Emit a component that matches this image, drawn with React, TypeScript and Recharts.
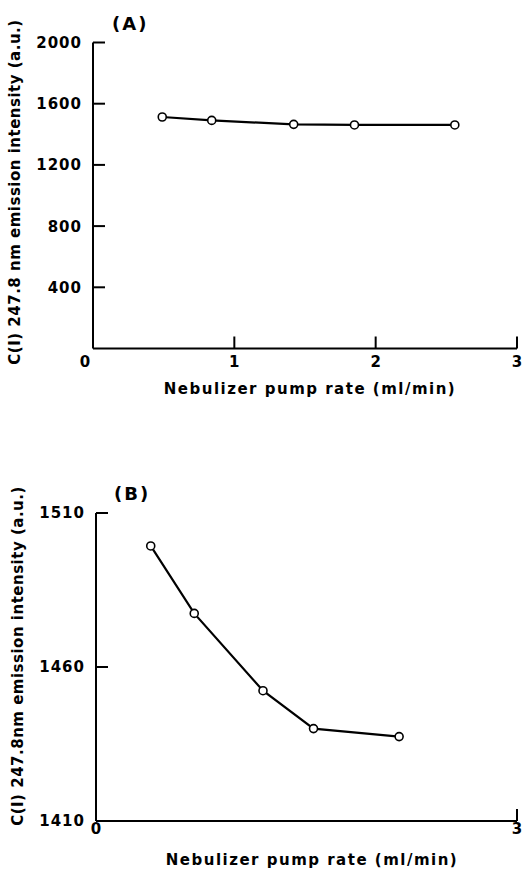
import React from "react";
import { LineChart, Line, XAxis, YAxis } from "recharts";

const pumpRateA = [0.49, 0.84, 1.42, 1.85, 2.56];
const intensityA = [1513, 1491, 1465, 1461, 1461];
const pumpRateB = [0.39, 0.7, 1.19, 1.55, 2.16];
const intensityB = [1499.3, 1477.4, 1452.3, 1440, 1437.4];

const yTicksA = [400, 800, 1200, 1600, 2000];
const xTicksA = [0, 1, 2, 3];
const yTicksB = [1410, 1460, 1510];
const xTicksB = [0, 3];

const xTitle = "Nebulizer pump rate (ml/min)";
const yTitleA = "C(I) 247.8 nm emission intensity (a.u.)";
const yTitleB = "C(I) 247.8nm emission intensity (a.u.)";

const dataA = pumpRateA.map((x, i) => ({ x, y: intensityA[i] }));
const dataB = pumpRateB.map((x, i) => ({ x, y: intensityB[i] }));

const FONT = "'DejaVu Sans', sans-serif";

const makeYTick = (lineAt: number[]) => (props: any) => {
  const { x, y, payload } = props;
  const v = payload.value;
  return (
    <g>
      {lineAt.includes(v) && (
        <line x1={x} x2={x + 12} y1={y} y2={y} stroke="#000" strokeWidth={2} />
      )}
      <text
        x={x - 11}
        y={y}
        dy="0.36em"
        textAnchor="end"
        fontFamily={FONT}
        fontSize={15}
        fontWeight={700}
        letterSpacing={1}
        fill="#000"
      >
        {v}
      </text>
    </g>
  );
};

const makeXTick = (lineAt: number[], dyLabel: number, zeroShift: number) => (props: any) => {
  const { x, y, payload } = props;
  const v = payload.value;
  return (
    <g>
      {lineAt.includes(v) && (
        <line x1={x} x2={x} y1={y} y2={y - 12} stroke="#000" strokeWidth={2} />
      )}
      <text
        x={v === 0 ? x + zeroShift : x}
        y={y + dyLabel}
        dy="0.36em"
        textAnchor="middle"
        fontFamily={FONT}
        fontSize={15}
        fontWeight={700}
        fill="#000"
      >
        {v}
      </text>
    </g>
  );
};

const textStyle: React.CSSProperties = {
  position: "absolute",
  fontFamily: FONT,
  fontWeight: 700,
  color: "#000",
  whiteSpace: "nowrap",
};

const RotLabel = ({ cx, cy, text }: { cx: number; cy: number; text: string }) => (
  <div
    style={{
      ...textStyle,
      left: cx - 200,
      top: cy - 10,
      width: 400,
      height: 20,
      lineHeight: "20px",
      textAlign: "center",
      fontSize: 15,
      letterSpacing: 0.5,
      transform: "rotate(-90deg)",
    }}
  >
    {text}
  </div>
);

export default function App() {
  return (
    <div style={{ position: "absolute", left: 0, top: 0, width: 528, height: 871, background: "#fff" }}>
      <div style={{ position: "absolute", left: 0, top: 0 }}>
        <LineChart
          width={528}
          height={420}
          data={dataA}
          margin={{ top: 42.5, right: 11, left: 33, bottom: 41.5 }}
        >
          <XAxis
            dataKey="x"
            type="number"
            domain={[0, 3]}
            ticks={xTicksA}
            tickSize={0}
            tickMargin={0}
            tickLine={false}
            axisLine={{ stroke: "#000", strokeWidth: 2 }}
            tick={makeXTick([1, 2, 3], 13, -8)}
            height={30}
          />
          <YAxis
            dataKey="y"
            type="number"
            domain={[0, 2000]}
            ticks={yTicksA}
            tickSize={0}
            tickMargin={0}
            tickLine={false}
            axisLine={{ stroke: "#000", strokeWidth: 2 }}
            tick={makeYTick(yTicksA)}
            width={60}
          />
          <Line
            dataKey="y"
            type="linear"
            stroke="#000"
            strokeWidth={2.2}
            dot={{ r: 4, fill: "#fff", stroke: "#000", strokeWidth: 1.6 }}
            isAnimationActive={false}
          />
        </LineChart>
      </div>
      <div style={{ position: "absolute", left: 0, top: 440 }}>
        <LineChart
          width={528}
          height={431}
          data={dataB}
          margin={{ top: 73, right: 11, left: 36, bottom: 20 }}
        >
          <XAxis
            dataKey="x"
            type="number"
            domain={[0, 3]}
            ticks={xTicksB}
            tickSize={0}
            tickMargin={0}
            tickLine={false}
            axisLine={{ stroke: "#000", strokeWidth: 2 }}
            tick={makeXTick([3], 8, 0)}
            height={30}
          />
          <YAxis
            dataKey="y"
            type="number"
            domain={[1410, 1510]}
            ticks={yTicksB}
            tickSize={0}
            tickMargin={0}
            tickLine={false}
            axisLine={{ stroke: "#000", strokeWidth: 2 }}
            tick={makeYTick([1460, 1510])}
            width={60}
          />
          <Line
            dataKey="y"
            type="linear"
            stroke="#000"
            strokeWidth={2.2}
            dot={{ r: 4, fill: "#fff", stroke: "#000", strokeWidth: 1.6 }}
            isAnimationActive={false}
          />
        </LineChart>
      </div>

      <div style={{ ...textStyle, left: 112, top: 13, fontSize: 18, letterSpacing: 2 }}>(A)</div>
      <div style={{ ...textStyle, left: 114, top: 483, fontSize: 18, letterSpacing: 2 }}>(B)</div>

      <div style={{ ...textStyle, left: 110, top: 380, width: 400, textAlign: "center", fontSize: 15, letterSpacing: 1.5 }}>
        {xTitle}
      </div>
      <div style={{ ...textStyle, left: 112, top: 851, width: 400, textAlign: "center", fontSize: 15, letterSpacing: 1.5 }}>
        {xTitle}
      </div>

      <RotLabel cx={15} cy={192} text={yTitleA} />
      <RotLabel cx={18} cy={656} text={yTitleB} />
    </div>
  );
}
